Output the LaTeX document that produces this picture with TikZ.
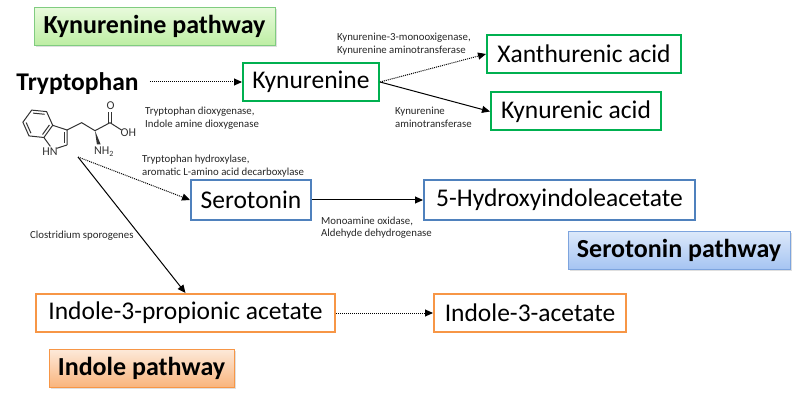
\documentclass[tikz,border=0pt]{standalone}
\usepackage{fontspec}
\setmainfont{Carlito}
\usetikzlibrary{positioning,arrows.meta,shadows,calc}
\definecolor{kgreen}{HTML}{00B050}
\definecolor{sblue}{HTML}{4F81BD}
\definecolor{iorange}{HTML}{F79646}
\tikzset{
  box/.style={draw, line width=2pt, fill=white, minimum height=38pt, inner xsep=6pt, font=\fontsize{25.5}{30}\selectfont},
  kbox/.style={box, draw=kgreen},
  sbox/.style={box, draw=sblue},
  ibox/.style={box, draw=iorange},
  pathway/.style={draw, line width=0.8pt, minimum height=38pt, font=\bfseries\fontsize{26}{30}\selectfont,
    drop shadow={shadow xshift=1.5pt, shadow yshift=-1.5pt, opacity=0.25}},
  enzyme/.style={align=left, anchor=west, inner sep=0pt, text=black!85, font=\fontsize{10.8}{12.5}\selectfont},
  conv/.style={line width=1pt, -{Triangle[length=8pt,width=7pt]}},
  dotconv/.style={conv, dash pattern=on 1pt off 1pt},
  bond/.style={line width=1pt, black!80},
  atom/.style={inner sep=0pt, text=black!80, font=\fontsize{12}{13}\selectfont}
}
\begin{document}
\begin{tikzpicture}[x=1pt,y=-1pt]
\useasboundingbox (0,0) rectangle (800,406);
\node[pathway, draw=green!60!black!50!white, top color={rgb,255:red,232;green,250;blue,220}, bottom color={rgb,255:red,189;green,238;blue,163}, minimum width=241pt] (kpath) at (154.5,26.5) {Kynurenine pathway};
\node[pathway, draw={rgb,255:red,125;green,164;blue,222}, top color={rgb,255:red,220;green,232;blue,250}, bottom color={rgb,255:red,165;green,196;blue,242}, minimum width=222pt] (spath) at (679,250.5) {Serotonin pathway};
\node[pathway, draw=iorange, top color={rgb,255:red,253;green,233;blue,217}, bottom color={rgb,255:red,249;green,180;blue,124}, minimum width=185pt] (ipath) at (141.5,368.5) {Indole pathway};
\node[inner sep=0pt, font=\bfseries\fontsize{25.5}{30}\selectfont] (trp) at (77.5,83.5) {Tryptophan};
\node[kbox, minimum width=136pt] (kyn) at (311,82) {Kynurenine};
\node[kbox, minimum width=194pt] (xan) at (584,54) {Xanthurenic acid};
\node[kbox, minimum width=170pt] (kya) at (576,111.5) {Kynurenic acid};
\node[sbox, minimum width=120pt, minimum height=40pt] (ser) at (251,200) {Serotonin};
\node[sbox, minimum width=271pt, minimum height=39pt] (hiaa) [right=111pt of ser] {5-Hydroxyindoleacetate};
\node[ibox, minimum width=299pt] (ipa) at (185.5,313) {Indole-3-propionic acetate};
\node[ibox, minimum width=192pt] (iaa) [right=97pt of ipa] {Indole-3-acetate};
\node[enzyme] (tdo) at (145,118) {Tryptophan dioxygenase,\\Indole amine dioxygenase};
\node[enzyme] (kmo) at (337,44) {Kynurenine-3-monooxigenase,\\Kynurenine aminotransferase};
\node[enzyme] (kat) at (395,117.5) {Kynurenine\\aminotransferase};
\node[enzyme] (tph) at (142,166) {Tryptophan hydroxylase,\\aromatic L-amino acid decarboxylase};
\node[enzyme] (mao) at (321,227.5) {Monoamine oxidase,\\Aldehyde dehydrogenase};
\node[enzyme] (csp) at (30,235.5) {Clostridium sporogenes};
\coordinate (c3) at (67,130);
\coordinate (c3a) at (52.7,125.3);
\coordinate (c4) at (46.6,111.6);
\coordinate (c5) at (31.7,110.1);
\coordinate (c6) at (22.9,122.2);
\coordinate (c7) at (29,135.9);
\coordinate (c7a) at (43.9,137.5);
\coordinate (c2) at (67,145);
\coordinate (n1) at (52.7,149.6);
\coordinate (bz) at (37.8,123.8);
\coordinate (py) at (56.7,137.5);
\coordinate (cb) at (81.7,122.7);
\coordinate (ca) at (95,130.7);
\coordinate (cc) at (110,122.7);
\coordinate (o1) at (110,112);
\coordinate (o2) at (121.5,130);
\coordinate (n2) at (98.8,144.5);
\draw[bond] (c3a) -- (c4) -- (c5) -- (c6) -- (c7) -- (c7a) -- cycle;
\draw[bond] ($(bz)!0.78!(c4)$) -- ($(bz)!0.78!(c5)$);
\draw[bond] ($(bz)!0.78!(c6)$) -- ($(bz)!0.78!(c7)$);
\draw[bond] ($(bz)!0.78!(c7a)$) -- ($(bz)!0.78!(c3a)$);
\draw[bond] (c3a) -- (c3) -- (c2);
\draw[bond] ($(py)!0.72!(c3)$) -- ($(py)!0.72!(c2)$);
\draw[bond, shorten >=4pt] (c2) -- (n1);
\draw[bond, shorten >=4pt] (c7a) -- (n1);
\draw[bond] (c3) -- (cb) -- (ca) -- (cc) -- (o2);
\draw[bond] ($(cc)+(-1.4,0)$) -- ($(o1)+(-1.4,0)$);
\draw[bond] ($(cc)+(1.4,0)$) -- ($(o1)+(1.4,0)$);
\fill[black!80] (ca) -- ($(n2)+(-1.9,0)$) -- ($(n2)+(1.9,0)$) -- cycle;
\node[atom] (olab) at (110.5,105.5) {O};
\node[atom, anchor=west] (ohlab) at (120.5,133) {OH};
\node[atom] (nhlab) at (104,152) {NH\textsubscript{2}};
\node[atom, anchor=east] (hnlab) at (57.8,151.5) {HN};
\coordinate (trpb) at (78,157);
\draw[dotconv, shorten <=11pt] (trp.east |- kyn.west) -- (kyn.west);
\draw[dotconv] (kyn.east) -- (xan.west);
\draw[conv] (kyn.east) -- (kya.west);
\draw[dotconv] (trpb) -- (ser.west);
\draw[conv] (trpb) -- (ipa.north);
\draw[conv] (ser.east) -- (hiaa.west);
\draw[dotconv] (ipa.east) -- (iaa.west);
\end{tikzpicture}
\end{document}
